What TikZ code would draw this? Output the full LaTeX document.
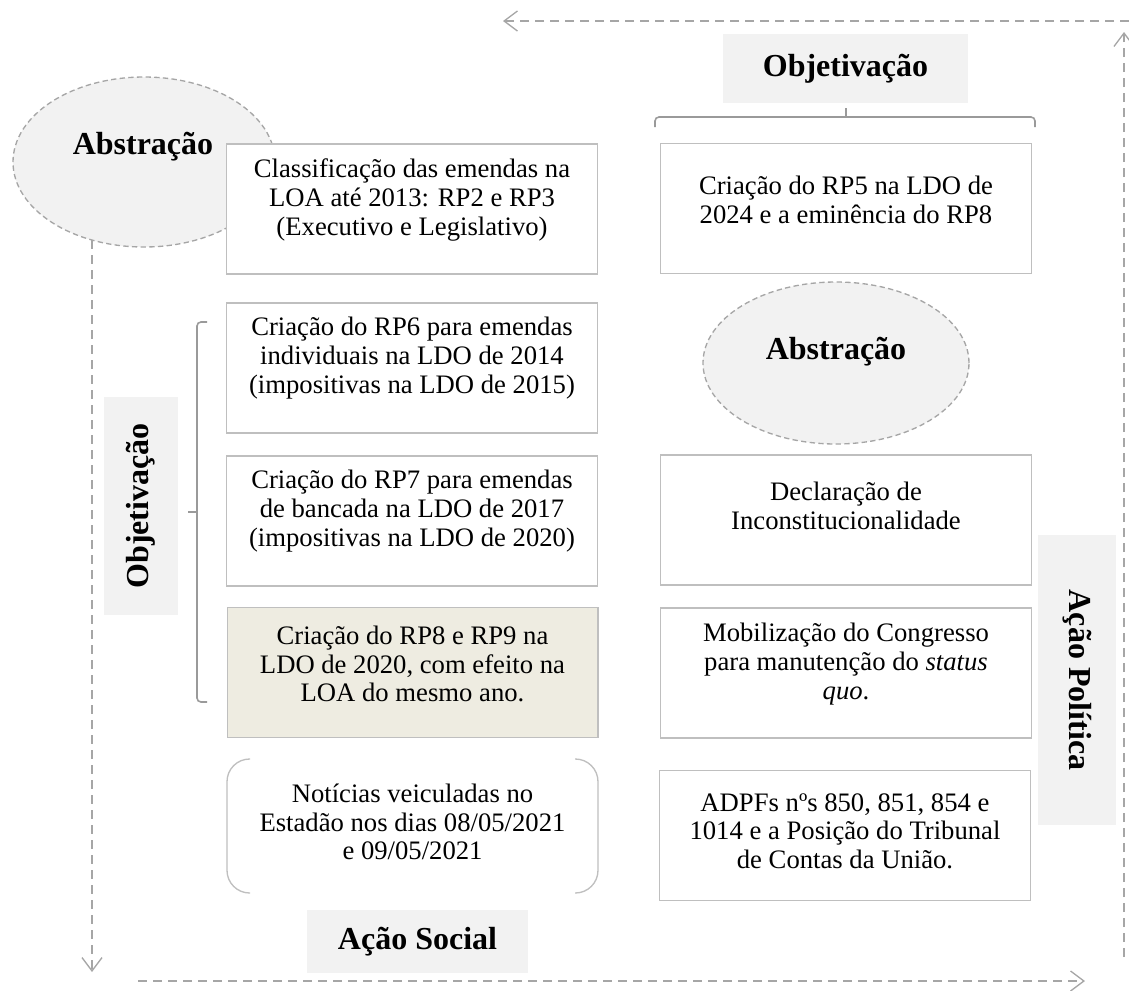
\documentclass[tikz,border=0pt]{standalone}
\usepackage{fontspec}
\setmainfont{Liberation Serif}
\usetikzlibrary{arrows.meta,shapes.geometric}
\definecolor{boxgray}{HTML}{BFBFBF}
\definecolor{lblgray}{HTML}{F2F2F2}
\definecolor{dashgray}{HTML}{A6A6A6}
\definecolor{beige}{HTML}{EEECE1}
\definecolor{bracegray}{HTML}{9A9A9A}
\begin{document}
\begin{tikzpicture}[x=0.75pt,y=-0.75pt,
  box/.style={draw=boxgray, fill=white, line width=1pt, minimum width=278pt, minimum height=97.5pt, inner sep=0pt},
  txt/.style={align=center, font=\fontsize{20}{21.5}\selectfont, inner sep=0pt},
  lbl/.style={fill=lblgray, font=\bfseries\fontsize{24}{28}\selectfont, inner sep=0pt},
  ell/.style={ellipse, draw=dashgray, fill=lblgray, line width=1pt, dash pattern=on 4pt off 2.5pt, inner sep=0pt},
  flow/.style={draw=dashgray, line width=1pt, dash pattern=on 6.75pt off 4.5pt, -{Straight Barb[length=10pt,width=15pt]}},
  brace/.style={draw=bracegray, line width=1.2pt, rounded corners=3pt}
]
\useasboundingbox (0,0) rectangle (1129,990);

% ellipses
\node[ell, minimum width=196.5pt, minimum height=127.5pt] (ab1) at (144,162) {};
\node[ell, minimum width=199.5pt, minimum height=121.5pt] (ab2) at (836,363) {};

% left column boxes
\node[box] (L1) at (412,209) {};
\node[box] (L2) at (412,368) {};
\node[box] (L3) at (412,521) {};
\node[box, fill=beige] (L4) at (412.5,672.5) {};
\node[minimum width=278pt, minimum height=100pt, inner sep=0pt] (L5) at (412.5,826) {};
% right column boxes
\node[box] (R1) at (846,208.5) {};
\node[box] (R2) at (846,520) {};
\node[box] (R3) at (846,673) {};
\node[box] (R4) at (845,835.5) {};

% bracket pair for L5
\draw[draw=boxgray, line width=1pt, rounded corners=17pt] (250,759) -- (227,759) -- (227,893) -- (250,893);
\draw[draw=boxgray, line width=1pt, rounded corners=17pt] (575,759) -- (598,759) -- (598,893) -- (575,893);

% texts
\node[txt] (tL1) at (412,200) {Classificação das emendas na\\LOA até 2013: RP2 e RP3\\(Executivo e Legislativo)};
\node[txt] (tL2) at (412,358) {Criação do RP6 para emendas\\individuais na LDO de 2014\\(impositivas na LDO de 2015)};
\node[txt] (tL3) at (412,511) {Criação do RP7 para emendas\\de bancada na LDO de 2017\\(impositivas na LDO de 2020)};
\node[txt] (tL4) at (412.5,664) {Criação do RP8 e RP9 na\\LDO de 2020, com efeito na\\LOA do mesmo ano.};
\node[txt] (tL5) at (412.5,822) {Notícias veiculadas no\\Estadão nos dias 08/05/2021\\e 09/05/2021};
\node[txt] (tR1) at (846,200) {Criação do RP5 na LDO de\\2024 e a eminência do RP8};
\node[txt] (tR2) at (846,506) {Declaração de\\Inconstitucionalidade};
\node[txt] (tR3) at (846,664) {Mobilização do Congresso\\para manutenção do \textit{status}\\\textit{quo}.};
\node[txt] (tR4) at (845,831) {ADPFs nºs 850, 851, 854 e\\1014 e a Posição do Tribunal\\de Contas da União.};

% ellipse labels
\node[font=\bfseries\fontsize{24}{28}\selectfont, inner sep=0pt] (tab1) at (143,147) {Abstração};
\node[font=\bfseries\fontsize{24}{28}\selectfont, inner sep=0pt] (tab2) at (836,352) {Abstração};

% gray labels
\node[lbl, minimum width=183.75pt, minimum height=51.75pt] (obj1) at (845.5,68.5) {Objetivação};
\node[lbl, minimum width=163.5pt, minimum height=55.5pt, rotate=90] (obj2) at (141,506) {Objetivação};
\node[lbl, minimum width=217.5pt, minimum height=58.5pt, rotate=-90] (pol) at (1077,680) {Ação Política};
\node[lbl, minimum width=165.75pt, minimum height=47.25pt] (soc) at (417.5,941.5) {Ação Social};

% braces
\draw[brace] (655,127) -- (655,117) -- (846,117);
\draw[brace] (1035,127) -- (1035,117) -- (846,117);
\draw[draw=bracegray, line width=1.2pt] (846,117) -- (846,108);
\draw[brace] (207,322) -- (197,322) -- (197,512);
\draw[brace] (207,702) -- (197,702) -- (197,512);
\draw[draw=bracegray, line width=1.2pt] (197,512) -- (188,512);

% flow arrows
\coordinate (f1s) at (92,240);
\coordinate (f1e) at (92,972);
\coordinate (f2s) at (138,981);
\coordinate (f2e) at (1085,981);
\coordinate (f3s) at (1124,957);
\coordinate (f3e) at (1124,32);
\coordinate (f4s) at (1129,21);
\coordinate (f4e) at (503,21);
\draw[flow] (f1s) -- (f1e);
\draw[flow] (f2s) -- (f2e);
\draw[flow] (f3s) -- (f3e);
\draw[flow] (f4s) -- (f4e);
\end{tikzpicture}
\end{document}
